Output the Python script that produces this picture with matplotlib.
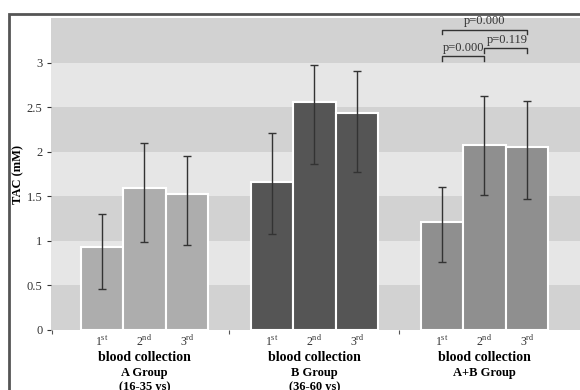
import matplotlib
matplotlib.use("Agg")
import matplotlib.pyplot as plt
from matplotlib.patches import Rectangle

plt.rcParams['font.family'] = ['Liberation Serif', 'DejaVu Serif']

groups = ["A Group\n(16-35 ys)", "B Group\n(36-60 ys)", "A+B Group"]
collections = ["1$^{\\mathregular{st}}$", "2$^{\\mathregular{nd}}$", "3$^{\\mathregular{rd}}$"]
means_A = [0.93, 1.59, 1.53]
lower_A = [0.46, 0.99, 0.95]
upper_A = [1.30, 2.10, 1.95]
means_B = [1.66, 2.56, 2.43]
lower_B = [1.08, 1.86, 1.77]
upper_B = [2.21, 2.97, 2.91]
means_AB = [1.21, 2.08, 2.05]
lower_AB = [0.76, 1.51, 1.47]
upper_AB = [1.60, 2.62, 2.57]
p_labels = ["p=0.000", "p=0.000", "p=0.119"]
yticks = [0, 0.5, 1, 1.5, 2, 2.5, 3]
ytick_labels = ["0", "0.5", "1", "1.5", "2", "2.5", "3"]

colors = ["#adadad", "#555555", "#8f8f8f"]

fig = plt.figure(figsize=(5.8, 3.9), dpi=100)
ax = fig.add_axes([51/580, 60/390, 1 - 51/580, 312/390])

# outer frame
fig.patches.append(Rectangle((9/580, -0.01), 1.0, 1 - 14/390 + 0.01, transform=fig.transFigure,
                             fill=False, edgecolor="#555555", linewidth=2.0, zorder=10))

xmin, xmax = -1.2, 11.25
ax.set_xlim(xmin, xmax)
ax.set_ylim(0, 3.5)

# background bands
for i in range(7):
    c = "#d2d2d2" if i % 2 == 0 else "#e6e6e6"
    ax.axhspan(i * 0.5, (i + 1) * 0.5, color=c, zorder=0, linewidth=0)

all_means = [means_A, means_B, means_AB]
all_low = [lower_A, lower_B, lower_AB]
all_up = [upper_A, upper_B, upper_AB]
positions = []
for g in range(3):
    xs = [g * 4 + k for k in range(3)]
    positions.extend(xs)
    m = all_means[g]
    lo = all_low[g]
    up = all_up[g]
    ax.bar(xs, m, width=1.0, color=colors[g], edgecolor="white", linewidth=1.5, zorder=2)
    yerr = [[mi - li for mi, li in zip(m, lo)], [ui - mi for mi, ui in zip(m, up)]]
    ax.errorbar(xs, m, yerr=yerr, fmt="none", ecolor="#333333", elinewidth=1.0,
                capsize=3, capthick=1.0, zorder=3)

for s in ax.spines.values():
    s.set_visible(False)

ax.set_yticks(yticks)
ax.set_yticklabels(ytick_labels, fontsize=9, color="#333333")
ax.tick_params(axis="y", length=3, width=0.8, color="#333333", pad=3)

ax.set_xticks([xmin + 0.02, 3, 7])
ax.set_xticklabels(["", "", ""])
ax.tick_params(axis="x", length=3, width=0.8, color="#555555")
ax.set_xticks(positions, minor=True)
ax.set_xticklabels(collections * 3, minor=True, fontsize=8.5, color="#333333")
ax.tick_params(axis="x", which="minor", length=0, pad=3)

ax.set_ylabel("TAC (mM)", fontsize=9, fontweight="bold", labelpad=2)

for g in range(3):
    cx = g * 4 + 1
    ax.text(cx, -0.305, "blood collection", ha="center", va="center", fontsize=10,
            fontweight="bold", clip_on=False)
    ax.text(cx, -0.41, groups[g], ha="center", va="top", fontsize=9,
            fontweight="bold", linespacing=1.3, clip_on=False)

# significance brackets
def bracket(x1, x2, y, h, label, tx):
    ax.plot([x1, x1, x2, x2], [y - h, y, y, y - h], color="#333333", linewidth=1.0, zorder=4)
    ax.text(tx, y + 0.03, label, ha="center", va="bottom", fontsize=9, color="#333333")

bracket(8, 10, 3.37, 0.055, p_labels[0], 9)
bracket(8, 9, 3.07, 0.055, p_labels[1], 8.5)
bracket(9, 10, 3.16, 0.055, p_labels[2], 9.55)

fig.savefig("out.png", dpi=100)
